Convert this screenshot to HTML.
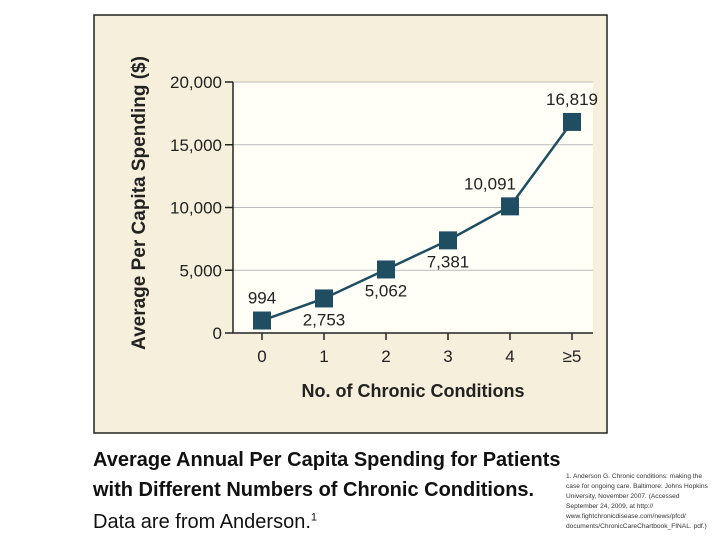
<!DOCTYPE html>
<html><head><meta charset="utf-8"><style>
body{margin:0;width:720px;height:540px;background:#fff;position:relative;overflow:hidden;font-family:"Liberation Sans",sans-serif}
.cap{position:absolute;left:93px;font-size:20px;color:#111}
.fn{position:absolute;left:566px;top:472px;width:142px;font-size:6.6px;line-height:10px;color:#333}
</style></head><body>
<svg width="720" height="540" style="position:absolute;left:0;top:0" id="svg">
<rect x="94" y="15" width="513" height="418" fill="#f5efdc" stroke="#222" stroke-width="1.5"/>
<rect x="233" y="82" width="360" height="251" fill="#fffef7"/>
<g id="g"></g>
<text transform="translate(145,203) rotate(-90)" text-anchor="middle" font-size="19" font-weight="bold" fill="#222">Average Per Capita Spending ($)</text>
<text x="413" y="397" text-anchor="middle" font-size="18" font-weight="bold" fill="#222">No. of Chronic Conditions</text>
</svg>
<div class="cap" style="top:445px;font-weight:bold;line-height:30px">Average Annual Per Capita Spending for Patients<br>with Different Numbers of Chronic Conditions.</div>
<div class="cap" style="top:511px">Data are from Anderson.<sup style="font-size:11px">1</sup></div>
<div class="fn">1. Anderson G. Chronic conditions: making the case for ongoing care. Baltimore: Johns Hopkins University, November 2007. (Accessed September 24, 2009, at http:// www.fightchronicdisease.com/news/pfcd/ documents/ChronicCareChartbook_FINAL. pdf.)</div>
<script>
const categories=["0","1","2","3","4","\u22655"];
const values=[994,2753,5062,7381,10091,16819];
const labels=["994","2,753","5,062","7,381","10,091","16,819"];
const labelAbove=[true,false,false,false,true,true];
const yTicks=[0,5000,10000,15000,20000];
const yTickLabels=["0","5,000","10,000","15,000","20,000"];
const NS="http://www.w3.org/2000/svg",g=document.getElementById('g');
const x=i=>262+i*62,y=v=>333-v/20000*251;
function mk(t,a,txt){const e=document.createElementNS(NS,t);for(const k in a)e.setAttribute(k,a[k]);if(txt!=null)e.textContent=txt;g.appendChild(e);return e;}
yTicks.forEach((v,i)=>{
 if(v>0){const l=mk('line',{x1:233,x2:593,y1:y(v),y2:y(v),stroke:'#bbb','stroke-width':1});
 
 }
 const t=mk('line',{x1:225,x2:233,y1:y(v),y2:y(v),stroke:'#222','stroke-width':1.5});
 
 
 const tx=mk('text',{x:222,y:y(v)+6,'text-anchor':'end','font-size':17,fill:'#222'},yTickLabels[i]);
 
 
});
let ax=mk('line',{x1:233,x2:233,y1:82,y2:333,stroke:'#222','stroke-width':1.5});


ax=mk('line',{x1:233,x2:593,y1:333,y2:333,stroke:'#222','stroke-width':1.5});


categories.forEach((c,i)=>{
 const t=mk('line',{x1:x(i),x2:x(i),y1:333,y2:340,stroke:'#222','stroke-width':1.5});
 
 
 const tx=mk('text',{x:x(i),y:362,'text-anchor':'middle','font-size':17,fill:'#222'},c);
 
 
});
const ln=mk('polyline',{points:values.map((v,i)=>x(i)+','+y(v)).join(' '),fill:'none',stroke:'#1f4e63','stroke-width':2.5});


values.forEach((v,i)=>{
 const r=mk('rect',{x:x(i)-9,y:y(v)-9,width:18,height:18,fill:'#1f4e63'});
 
 
 const dx=i==4?-20:0;
 const t=mk('text',{x:x(i)+dx,y:labelAbove[i]?y(v)-17:y(v)+27,'text-anchor':'middle','font-size':17,fill:'#222'},labels[i]);
 
 
});
</script>
</body></html>
